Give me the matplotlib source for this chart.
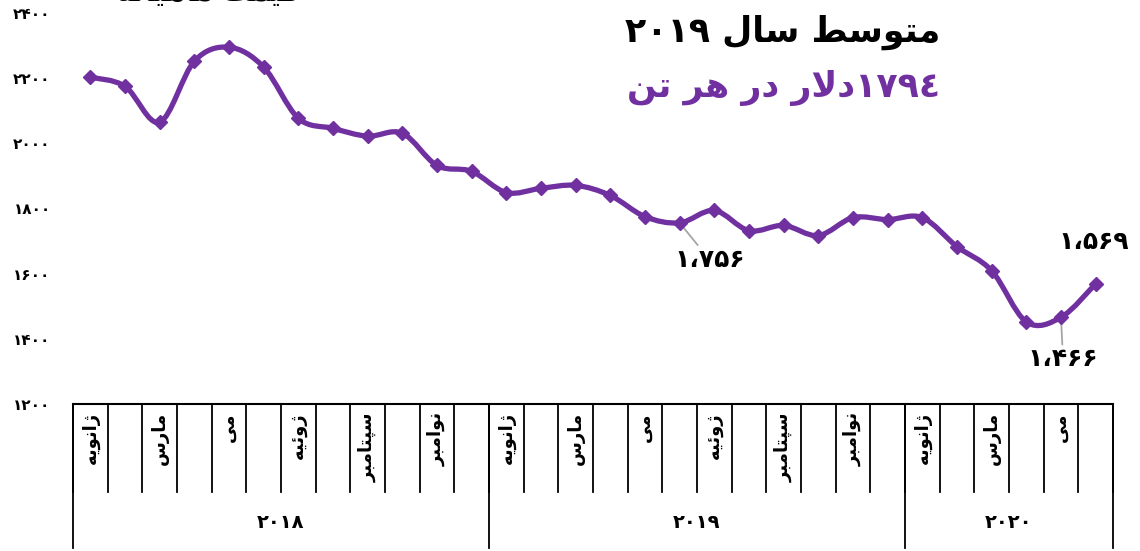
import numpy as np
import matplotlib
matplotlib.use("Agg")
import matplotlib.pyplot as plt
from matplotlib.path import Path
from matplotlib.patches import PathPatch
import matplotlib.transforms as mtransforms

plt.rcParams['font.family'] = ['DejaVu Sans']

# data: monthly price, Jan 2018 .. Jun 2020
prices = [2203, 2175, 2065, 2252, 2295, 2234, 2077, 2046, 2022, 2031, 1932, 1914,
          1849, 1862, 1871, 1840, 1775, 1756, 1794, 1732, 1748, 1717, 1772, 1766,
          1772, 1683, 1609, 1452, 1466, 1569]
month_names = ['ژانویه', '', 'مارس', '', 'می', '', 'ژوئیه', '', 'سپتامبر', '', 'نوامبر', '']
years = ['۲۰۱۸', '۲۰۱۹', '۲۰۲۰']
months_per_year = [12, 12, 6]
labelled = {17: '۱،۷۵۶', 28: '۱،۴۶۶', 29: '۱،۵۶۹'}
title = 'متوسط سال ۲۰۱۹'
subtitle = '۱۷۹٤دلار در هر تن'
top_text = 'قیمت ماهیانه'
yticks = [1200, 1400, 1600, 1800, 2000, 2200, 2400]

PURPLE = '#7030A0'

# --- minimal Persian shaping (presentation forms) ---
FORMS = {  # isolated, final, initial, medial
    'ا': ('\uFE8D', '\uFE8E', None, None),
    'ب': ('\uFE8F', '\uFE90', '\uFE91', '\uFE92'),
    'پ': ('\uFB56', '\uFB57', '\uFB58', '\uFB59'),
    'ت': ('\uFE95', '\uFE96', '\uFE97', '\uFE98'),
    'د': ('\uFEA9', '\uFEAA', None, None),
    'ر': ('\uFEAD', '\uFEAE', None, None),
    'ز': ('\uFEAF', '\uFEB0', None, None),
    'ژ': ('\uFB8A', '\uFB8B', None, None),
    'س': ('\uFEB1', '\uFEB2', '\uFEB3', '\uFEB4'),
    'ط': ('\uFEC1', '\uFEC2', '\uFEC3', '\uFEC4'),
    'ق': ('\uFED5', '\uFED6', '\uFED7', '\uFED8'),
    'ل': ('\uFEDD', '\uFEDE', '\uFEDF', '\uFEE0'),
    'م': ('\uFEE1', '\uFEE2', '\uFEE3', '\uFEE4'),
    'ن': ('\uFEE5', '\uFEE6', '\uFEE7', '\uFEE8'),
    'ه': ('\uFEE9', '\uFEEA', '\uFEEB', '\uFEEC'),
    'و': ('\uFEED', '\uFEEE', None, None),
    'ی': ('\uFBFC', '\uFBFD', '\uFBFE', '\uFBFF'),
    'ئ': ('\uFE89', '\uFE8A', '\uFE8B', '\uFE8C'),
}


def dual(c):
    return c in FORMS and FORMS[c][2] is not None


def shape(word):
    chars = list(word)
    out = []
    i = 0
    while i < len(chars):
        c = chars[i]
        prev_join = i > 0 and dual(chars[i - 1])
        if c == 'ل' and i + 1 < len(chars) and chars[i + 1] == 'ا':
            out.append('\uFEFC' if prev_join else '\uFEFB')
            i += 2
            continue
        if c not in FORMS:
            out.append(c)
            i += 1
            continue
        next_join = dual(c) and i + 1 < len(chars) and chars[i + 1] in FORMS
        iso, fin, ini, med = FORMS[c]
        if prev_join and next_join:
            out.append(med)
        elif prev_join:
            out.append(fin)
        elif next_join:
            out.append(ini)
        else:
            out.append(iso)
        i += 1
    return ''.join(out)


def is_digit(c):
    return c.isdigit() or c == '،'


def rtl(text):
    runs, cur = [], ''
    for c in text:
        if cur and is_digit(c) != is_digit(cur[-1]):
            runs.append(cur)
            cur = ''
        cur += c
    runs.append(cur)
    vis = []
    for r in reversed(runs):
        vis.append(r if is_digit(r[0]) else shape(r)[::-1])
    return ''.join(vis)


def fa_num(n):
    return str(n).translate(str.maketrans('0123456789', '۰۱۲۳۴۵۶۷۸۹'))


fig = plt.figure(figsize=(11.4, 5.51), dpi=100)
ax = fig.add_axes([73 / 1140, 1 - 404 / 551, 1040 / 1140, 391 / 551])

x = np.arange(len(prices))
y = np.array(prices, dtype=float)

# smoothed line (Catmull-Rom as cubic Bezier)
verts = [(x[0], y[0])]
codes = [Path.MOVETO]
n = len(x)
for i in range(n - 1):
    p0 = np.array([x[max(i - 1, 0)], y[max(i - 1, 0)]])
    p1 = np.array([x[i], y[i]])
    p2 = np.array([x[i + 1], y[i + 1]])
    p3 = np.array([x[min(i + 2, n - 1)], y[min(i + 2, n - 1)]])
    c1 = p1 + (p2 - p0) / 6
    c2 = p2 - (p3 - p1) / 6
    verts += [tuple(c1), tuple(c2), tuple(p2)]
    codes += [Path.CURVE4] * 3
ax.add_patch(PathPatch(Path(verts, codes), fill=False, edgecolor=PURPLE, lw=3.8,
                       capstyle='round', joinstyle='round', zorder=3))
ax.plot(x, y, linestyle='none', marker='D', markersize=7.5, color=PURPLE, zorder=4)

ax.set_xlim(-0.5, n - 0.5)
ax.set_ylim(1200, 2400)
ax.set_yticks(yticks)
ax.set_yticklabels([fa_num(v) for v in yticks], fontsize=11, fontweight='bold')
ax.tick_params(axis='y', length=0, pad=16)
ax.set_xticks([])
for s in ['left', 'right', 'top']:
    ax.spines[s].set_visible(False)
ax.spines['bottom'].set_linewidth(1.5)

# multi-level category axis
trans = mtransforms.blended_transform_factory(ax.transData, ax.transAxes)
month_row = -88 / 391
year_row = -144 / 391
for i in range(n + 1):
    ax.plot([i - 0.5, i - 0.5], [0, month_row], transform=trans, color='black',
            lw=1.3, clip_on=False)
    if i < n:
        name = month_names[i % 12]
        if name:
            ax.text(i, -8 / 391, rtl(name), transform=trans, rotation=90,
                    ha='center', va='top', fontsize=13, fontweight='bold')
start = 0
for yr, cnt in zip(years, months_per_year):
    ax.plot([start - 0.5, start - 0.5], [0, year_row], transform=trans, color='black',
            lw=1.3, clip_on=False)
    ax.text(start + cnt / 2 - 0.5, -119 / 391, yr, transform=trans, ha='center',
            va='center', fontsize=14, fontweight='bold')
    start += cnt
ax.plot([n - 0.5, n - 0.5], [0, year_row], transform=trans, color='black',
        lw=1.3, clip_on=False)

# data labels
offsets = {17: (30, -37), 28: (2, -42), 29: (-2, 42)}
for i, lab in labelled.items():
    dx, dy = offsets[i]
    ax.annotate(lab, (x[i], y[i]), xytext=(dx * 0.72, dy * 0.72), textcoords='offset points',
                ha='center', va='center', fontsize=18, fontweight='bold',
                arrowprops=dict(arrowstyle='-', color='#A6A6A6', lw=1.3,
                                shrinkA=0, shrinkB=2) if i != 29 else None)

fig.text(940 / 1140, 1 - 32 / 551, rtl(title), ha='right', va='center',
         fontsize=25, fontweight='bold', color='black')
fig.text(940 / 1140, 1 - 88 / 551, rtl(subtitle), ha='right', va='center',
         fontsize=25, fontweight='bold', color=PURPLE)
fig.text(300 / 1140, 1 - 1 / 551, rtl(top_text), ha='right', va='baseline',
         fontsize=20, fontweight='bold', color='black')

fig.savefig('out.png', dpi=100)
